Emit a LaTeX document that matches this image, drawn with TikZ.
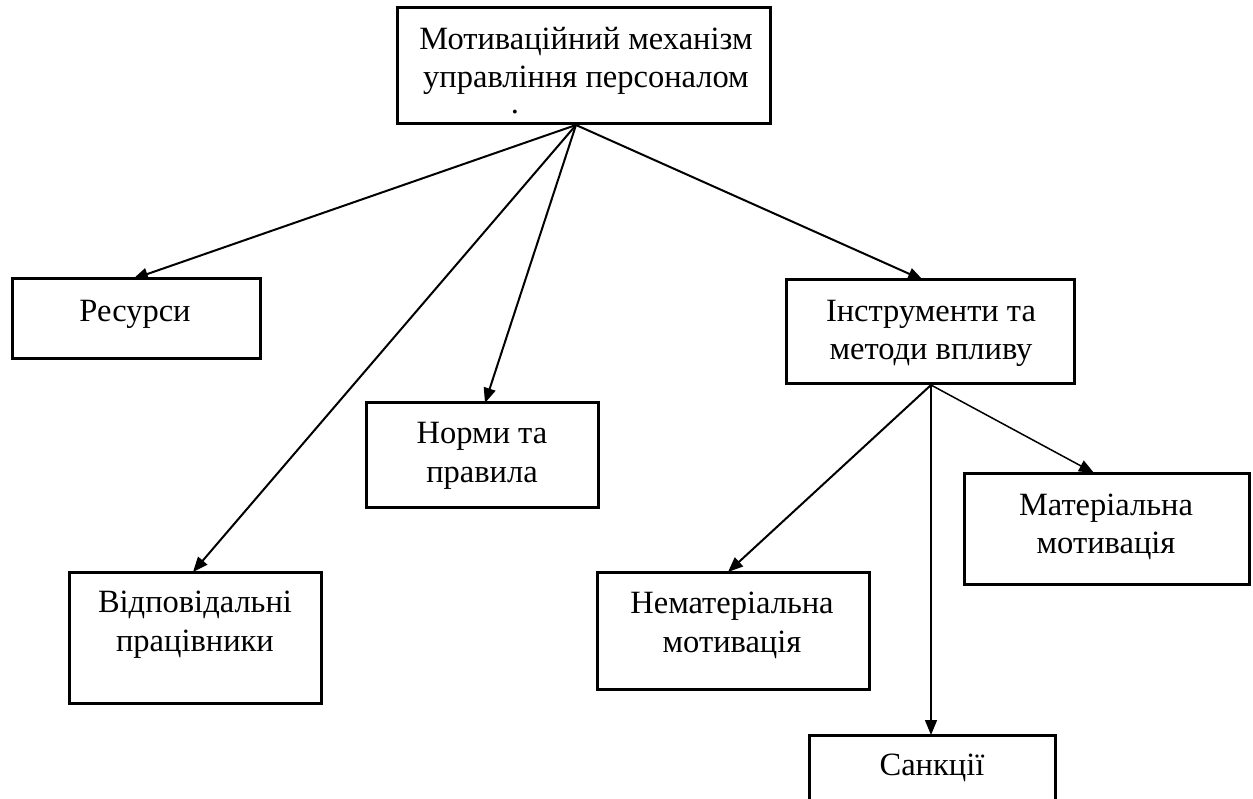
\documentclass[tikz,border=0pt]{standalone}
\usepackage{fontspec}
\setmainfont{Liberation Serif}
\usetikzlibrary{arrows.meta}
\tikzset{
  box/.style={draw, line width=3pt, inner sep=0pt, fill=none},
  txt/.style={anchor=base, inner sep=0pt, font=\fontsize{32.5}{38}\selectfont},
  arr/.style={line width=2pt, -{Triangle[length=15pt,width=12pt]}},
  arrthin/.style={line width=1.5pt, -{Triangle[length=15pt,width=12pt]}},
}
\begin{document}
\begin{tikzpicture}[x=1pt,y=-1pt]
\useasboundingbox[fill=white] (0,0) rectangle (1253,799);
% boxes
\node[box, minimum width=373pt, minimum height=116pt] (top) at (583.5,66) {};
\node[box, minimum width=248pt, minimum height=80pt] (res) at (136,319) {};
\node[box, minimum width=252pt, minimum height=131pt] (vidp) at (195,637.5) {};
\node[box, minimum width=232pt, minimum height=104pt] (norm) at (482,455) {};
\node[box, minimum width=288pt, minimum height=104pt] (instr) at (930,332) {};
\node[box, minimum width=272pt, minimum height=117pt] (nemat) at (733,630.5) {};
\node[box, minimum width=285pt, minimum height=111pt] (mat) at (1106.5,528.5) {};
\node[box, minimum width=246pt, minimum height=120pt] (sank) at (932,795) {};
% texts
\node[txt] (top-t1) at (586,50) {Мотиваційний механізм};
\node[txt] (top-t2) at (586,88) {управління персоналом};
\node[anchor=base, inner sep=0pt, text height=4pt, text depth=0pt, font=\fontsize{32.5}{38}\selectfont] (top-t3) at (515,114) {.};
\node[txt] (res-t) at (135,322) {Ресурси};
\node[txt] (vidp-t1) at (195,612) {Відповідальні};
\node[txt] (vidp-t2) at (195,651) {працівники};
\node[txt] (norm-t1) at (482,443) {Норми та};
\node[txt] (norm-t2) at (482,482) {правила};
\node[txt] (instr-t1) at (931,322) {Інструменти та};
\node[txt] (instr-t2) at (931,360) {методи впливу};
\node[txt] (nemat-t1) at (732,613) {Нематеріальна};
\node[txt] (nemat-t2) at (732,652) {мотивація};
\node[txt] (mat-t1) at (1106,515) {Матеріальна};
\node[txt] (mat-t2) at (1106,553) {мотивація};
\node[txt] (sank-t) at (932,775) {Санкції};
% connector ends
\coordinate (top-o) at (576,125);
\coordinate (res-in) at (133,279);
\coordinate (vidp-in) at (193,572);
\coordinate (norm-in) at (485,403);
\coordinate (instr-in) at (923,280);
\coordinate (instr-o) at (931,385);
\coordinate (nemat-in) at (728,572);
\coordinate (sank-in) at (931,735);
\coordinate (mat-in) at (1094,473);
% connectors
\draw[arr] (top-o) -- (res-in);
\draw[arr] (top-o) -- (vidp-in);
\draw[arr] (top-o) -- (norm-in);
\draw[arr] (top-o) -- (instr-in);
\draw[arr] (instr-o) -- (nemat-in);
\draw[arrthin] (instr-o) -- (sank-in);
\draw[arrthin] (instr-o) -- (mat-in);
\end{tikzpicture}
\end{document}
